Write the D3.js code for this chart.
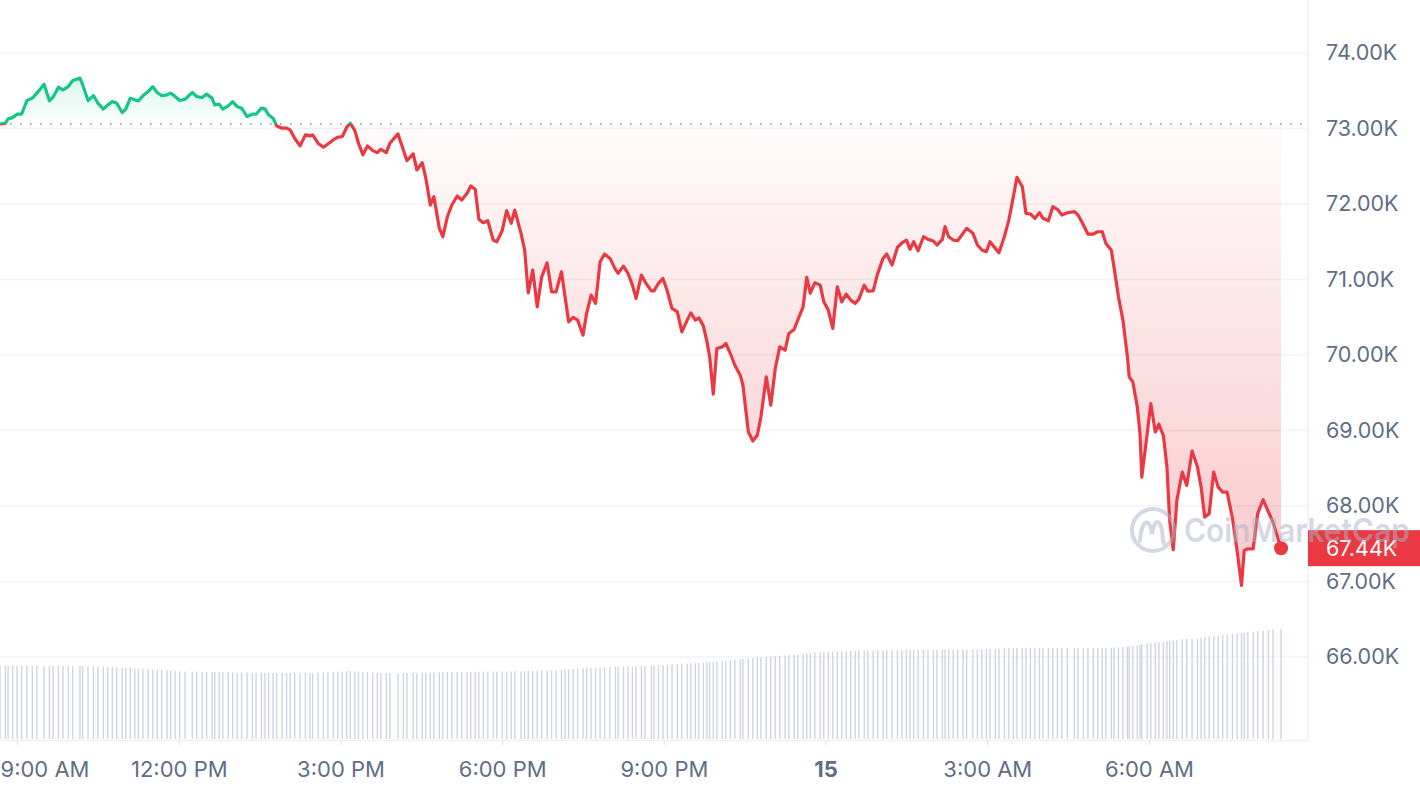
<!DOCTYPE html>
<html><head><meta charset="utf-8">
<script src="https://cdn.jsdelivr.net/npm/d3@7"></script>
<style>
html,body{margin:0;padding:0;background:#fff;}
svg{display:block;font-family:Inter,"Noto Sans",sans-serif;}
</style></head><body>
<svg id="chart" width="1420" height="792"></svg>
<script>
// ---- data ----
const startTime = new Date(2024, 2, 14, 8, 41);
const endTime = new Date(2024, 2, 15, 8, 57);
const openPrice = 73058;
const minutes = [0,6,9,14,19,24,30,36,41,49,55,59,65,70,76,81,89,92,98,104,109,115,120,125,130,136,140,145,150,154,159,165,170,175,180,186,190,195,200,206,214,219,225,230,236,239,244,248,254,259,264,269,275,281,285,291,295,299,304,308,314,319,323,328,334,340,345,348,354,360,365,371,376,381,386,390,395,399,404,409,415,420,424,430,434,443,449,453,460,464,470,474,479,483,489,493,498,503,509,514,520,524,529,533,538,543,549,553,559,564,569,573,580,584,588,593,598,603,609,614,619,625,629,633,638,643,649,653,658,663,668,673,679,685,688,694,699,704,708,714,718,725,728,733,738,743,748,754,759,765,769,774,778,783,787,790,794,798,804,808,813,818,824,827,833,838,843,847,853,858,863,868,874,878,884,888,894,898,902,907,913,917,922,927,932,937,942,947,952,956,962,966,972,977,983,987,993,999,1004,1009,1013,1017,1022,1028,1033,1039,1043,1049,1052,1056,1061,1066,1072,1076,1083,1088,1093,1098,1102,1108,1112,1118,1123,1128,1132,1138,1142,1147,1152,1157,1161,1167,1172,1177,1182,1188,1196,1200,1206,1211,1217,1222,1227,1231,1237,1240,1245,1250,1255,1257,1261,1266,1269,1271,1277,1281,1286,1290,1295,1299,1302,1306,1310,1316,1321,1327,1333,1337,1341,1346,1351,1356,1361,1366,1372,1377,1382,1385,1389,1395,1400,1406,1412,1417,1426];
const prices = [
73058,73069,73126,73143,73188,73188,73369,73401,73467,73586,
73365,73414,73546,73511,73554,73634,73666,73577,73369,73435,
73334,73255,73312,73355,73334,73210,73255,73401,73378,73365,
73431,73488,73554,73475,73435,73444,73467,73422,73369,73387,
73475,73422,73408,73454,73401,73312,73321,73255,73298,73355,
73289,73268,73157,73188,73188,73268,73259,73179,73135,73033,
73003,73003,72980,72870,72768,72914,72901,72914,72804,72751,
72794,72847,72883,72891,73016,73068,72971,72804,72649,72768,
72706,72679,72724,72679,72804,72927,72715,72573,72662,72450,
72546,72340,71985,72095,71676,71565,71830,71985,72105,72052,
72141,72237,72194,71796,71751,71777,71521,71499,71645,71910,
71743,71919,71610,71389,70822,71123,70637,71034,71220,70835,
70835,71101,70769,70438,70496,70460,70261,70549,70792,70682,
71233,71336,71278,71133,71080,71176,71080,70924,70748,71057,
70968,70849,70849,70947,71013,70835,70615,70570,70305,70460,
70557,70460,70491,70381,70172,69973,69479,70085,70106,70151,
70018,69863,69731,69598,68979,68859,68935,69178,69708,69333,
69820,70106,70062,70284,70337,70460,70637,71026,70818,70955,
70924,70703,70593,70350,70902,70703,70805,70725,70682,70735,
70924,70845,70849,71080,71278,71336,71190,71424,71485,71521,
71398,71499,71379,71565,71530,71508,71455,71530,71698,71565,
71521,71512,71610,71676,71610,71455,71389,71366,71499,71411,
71353,71565,71786,72095,72353,72228,71875,71866,71809,71883,
71809,71777,71963,71928,71853,71883,71897,71853,71720,71601,
71601,71631,71631,71477,71389,71167,70769,70460,69973,69708,
69642,69310,68957,68382,68957,69355,68979,69081,68935,68514,
67808,67419,68073,68448,68271,68727,68514,68249,67851,67896,
68448,68249,68183,68183,67830,67410,66946,67410,67432,67432,
67896,68082,67918,67785,67440];
// 24h volume, billions USD
const volumes = [
54.8,54.7,54.7,54.8,54.7,54.6,54.7,54.7,54.6,54.6,54.5,54.6,54.5,54.5,54.4,54.5,54.4,54.3,54.3,
54.1,54.0,53.9,53.8,53.7,53.5,53.3,53.1,52.9,
52.7,52.5,52.3,52.1,52.0,51.9,51.6,51.3,51.0,50.8,50.5,
50.3,50.2,50.2,50.1,50.0,49.9,49.9,49.8,49.7,49.6,49.6,49.5,49.5,49.5,49.4,49.4,
49.4,49.4,49.3,49.3,49.3,49.3,49.2,49.2,49.2,49.3,49.3,49.4,49.4,49.5,49.6,49.8,50.0,50.2,50.4,50.6,50.7,
50.6,50.4,50.1,49.8,49.6,49.4,49.3,49.2,49.2,49.2,49.3,49.3,49.4,49.4,49.5,49.5,49.6,49.6,49.7,49.7,49.8,
49.8,49.9,49.9,50.0,50.0,50.1,50.1,50.2,50.2,50.3,50.3,50.4,50.4,50.5,50.5,50.6,50.6,50.7,50.8,50.9,51.0,51.1,
51.3,51.5,51.7,51.9,52.1,52.3,52.5,52.7,52.9,53.1,53.3,53.5,53.6,53.7,53.8,53.9,54.0,54.1,54.2,54.3,54.4,54.5,54.6,
54.8,55.0,55.2,55.4,55.6,55.8,56.0,56.2,56.4,56.6,56.8,57.0,57.2,57.4,57.6,57.9,58.2,58.5,58.8,59.1,59.4,59.7,60.0,
60.3,60.6,60.9,61.2,61.5,61.8,62.1,62.4,62.7,63.0,63.3,63.6,63.9,64.2,64.5,64.8,65.0,65.1,65.2,65.3,65.4,65.5,65.6,
65.7,65.8,65.8,65.9,65.9,66.0,66.0,66.1,66.1,66.2,66.2,66.3,66.3,66.3,66.4,66.4,66.4,66.5,66.5,66.5,66.6,66.6,
66.7,66.7,66.8,66.8,66.9,66.9,67.0,67.1,67.2,67.3,67.4,67.5,67.6,67.7,67.8,67.8,67.9,67.9,67.9,67.9,67.9,67.9,
67.9,67.9,67.9,67.9,67.9,67.9,67.9,67.9,67.9,67.9,67.9,67.9,68.0,68.2,68.4,68.6,68.9,69.2,
69.5,69.9,70.3,70.6,71.0,71.4,71.8,72.1,72.5,72.9,73.2,73.6,74.0,74.4,74.6,74.9,75.3,75.6,
76.0,76.3,76.7,77.0,77.4,77.8,78.2,78.6,79.0,79.3,79.7,80.0,80.4,80.8,81.2,81.6,82.0];
const priceTicks = [66000,67000,68000,69000,70000,71000,72000,73000,74000];
const lastLabel = "67.44K";
const watermark = "CoinMarketCap";

// ---- layout ----
const W = 1420, H = 792;
const plotRight = 1308, axisY = 740;
const green = "#16c784", red = "#ea3943", labelColor = "#616e85";

const n = Math.min(minutes.length, prices.length, volumes.length);
const data = d3.range(n).map(i => ({
  t: new Date(+startTime + minutes[i] * 60000),
  p: prices[i], v: volumes[i]
}));

const svg = d3.select("#chart");
const x = d3.scaleTime().domain([startTime, endTime]).range([0, plotRight]);
const y = d3.scaleLinear().domain([66000, 74000]).range([656.9, 52.9]);
const yv = d3.scaleLinear().domain([0, 85]).range([739, 625]);
const yOpen = y(openPrice);

const defs = svg.append("defs");
defs.append("clipPath").attr("id", "above").append("rect")
  .attr("x", 0).attr("y", 0).attr("width", plotRight).attr("height", yOpen);
defs.append("clipPath").attr("id", "below").append("rect")
  .attr("x", 0).attr("y", yOpen).attr("width", plotRight).attr("height", H - yOpen);
const gG = defs.append("linearGradient").attr("id", "gGreen")
  .attr("gradientUnits", "userSpaceOnUse").attr("x1", 0).attr("x2", 0)
  .attr("y1", y(73700)).attr("y2", yOpen);
gG.append("stop").attr("offset", 0).attr("stop-color", green).attr("stop-opacity", 0.16);
gG.append("stop").attr("offset", 1).attr("stop-color", green).attr("stop-opacity", 0.02);
const gR = defs.append("linearGradient").attr("id", "gRed")
  .attr("gradientUnits", "userSpaceOnUse").attr("x1", 0).attr("x2", 0)
  .attr("y1", yOpen).attr("y2", y(66900));
gR.append("stop").attr("offset", 0).attr("stop-color", red).attr("stop-opacity", 0.02);
gR.append("stop").attr("offset", 1).attr("stop-color", red).attr("stop-opacity", 0.28);

// grid
svg.append("g").selectAll("line").data(priceTicks).join("line")
  .attr("x1", 0).attr("x2", plotRight)
  .attr("y1", d => y(d)).attr("y2", d => y(d))
  .attr("stroke", "#f2f3f6").attr("stroke-width", 1.5);

// right border
svg.append("line").attr("x1", plotRight).attr("x2", plotRight)
  .attr("y1", 0).attr("y2", axisY).attr("stroke", "#eff1f4").attr("stroke-width", 1.5);

// volume bars
svg.append("g").selectAll("rect").data(data).join("rect")
  .attr("x", d => x(d.t) - 0.7).attr("width", 1.4)
  .attr("y", d => yv(d.v)).attr("height", d => yv(0) - yv(d.v))
  .attr("fill", "#cfd5e3");

// areas
const area = d3.area().x(d => x(d.t)).y0(yOpen).y1(d => y(d.p));
svg.append("path").datum(data).attr("d", area).attr("fill", "url(#gGreen)").attr("clip-path", "url(#above)");
svg.append("path").datum(data).attr("d", area).attr("fill", "url(#gRed)").attr("clip-path", "url(#below)");

// baseline dotted
svg.append("line").attr("x1", 0).attr("x2", 1305).attr("y1", yOpen).attr("y2", yOpen)
  .attr("stroke", "#8f97a6").attr("stroke-width", 1.6).attr("stroke-dasharray", "1.6,8.4");

// lines
const line = d3.line().x(d => x(d.t)).y(d => y(d.p));
svg.append("path").datum(data).attr("d", line).attr("fill", "none")
  .attr("stroke", green).attr("stroke-width", 3.2).attr("stroke-linejoin", "round").attr("clip-path", "url(#above)");
svg.append("path").datum(data).attr("d", line).attr("fill", "none")
  .attr("stroke", red).attr("stroke-width", 3.2).attr("stroke-linejoin", "round").attr("clip-path", "url(#below)");

// end dot
const last = data[n - 1];
svg.append("circle").attr("cx", x(last.t)).attr("cy", y(last.p)).attr("r", 7).attr("fill", red);

// y axis
const yAxis = d3.axisRight(y).tickValues(priceTicks)
  .tickFormat(d => (d / 1000).toFixed(2) + "K").tickSize(0).tickPadding(18);
const gy = svg.append("g").attr("transform", `translate(${plotRight},0)`).call(yAxis);
gy.select(".domain").remove();
gy.selectAll("text").attr("fill", labelColor).style("font-size", "21.5px").style("font-family", "Inter, sans-serif");

// x axis
const fmtHour = d3.timeFormat("%-I:%M %p"), fmtDay = d3.timeFormat("%-d");
const xAxis = d3.axisBottom(x).ticks(d3.timeHour.every(3))
  .tickFormat(d => d.getHours() === 0 ? fmtDay(d) : fmtHour(d))
  .tickSize(5).tickPadding(16).tickSizeOuter(0);
const gx = svg.append("g").attr("transform", `translate(0,${axisY})`).call(xAxis);
gx.select(".domain").attr("stroke", "#eef0f3").attr("stroke-width", 1.5);
gx.selectAll(".tick line").attr("stroke", "#e6e9ee").attr("stroke-width", 1.5);
gx.selectAll("text").attr("fill", labelColor).style("font-size", "22px").style("font-family", "Inter, sans-serif")
  .style("font-weight", d => d.getHours() === 0 ? 700 : 400);
// keep the first label inside the left edge
gx.selectAll(".tick").each(function (d) {
  const tx = x(d);
  const t = d3.select(this).select("text");
  const w = t.node().getComputedTextLength();
  if (tx - w / 2 < 0) t.attr("text-anchor", "start").attr("x", -tx);
});

// price tag
const tagY = y(last.p);
svg.append("rect").attr("x", plotRight).attr("y", tagY - 18).attr("width", W - plotRight).attr("height", 36).attr("fill", red);
svg.append("text").attr("x", plotRight + 18).attr("y", tagY).attr("dy", "0.35em")
  .attr("fill", "#fff").style("font-size", "21.5px").text(lastLabel);

// watermark
const wm = svg.append("g").attr("opacity", 0.5);
wm.append("circle").attr("cx", 1153).attr("cy", 530).attr("r", 21)
  .attr("fill", "none").attr("stroke", "#aab3c6").attr("stroke-width", 4);
wm.append("path").attr("d", "M1140,541 C1141,520 1150,516 1152,534 C1154,518 1162,516 1163,541 C1164,546 1168,546 1172,540")
  .attr("fill", "none").attr("stroke", "#aab3c6").attr("stroke-width", 4).attr("stroke-linecap", "round");
wm.append("text").attr("x", 1184).attr("y", 542).attr("fill", "#aab3c6")
  .attr("textLength", 226).attr("lengthAdjust", "spacingAndGlyphs")
  .style("font-size", "32px").style("font-weight", 600).text(watermark);
</script>
</body></html>
